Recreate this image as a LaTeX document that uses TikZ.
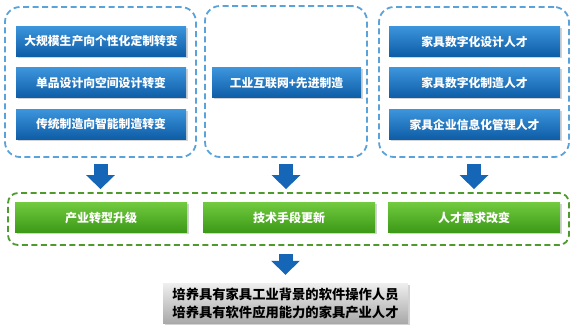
\documentclass[tikz,border=0pt]{standalone}
\usepackage{fontspec}
\setmainfont{Noto Sans CJK SC}
\usepackage{tikz}
\usetikzlibrary{arrows.meta, shadows}
\definecolor{dashblue}{HTML}{5AA2DA}
\definecolor{dashgreen}{HTML}{4E9A2C}
\definecolor{arrowblue}{HTML}{1566B6}
\definecolor{boxblueT}{HTML}{3C95DC}
\definecolor{boxblueB}{HTML}{0D5CA6}
\definecolor{boxgreenT}{HTML}{70C93E}
\definecolor{boxgreenB}{HTML}{3B9816}
\definecolor{boxgrayT}{HTML}{EFEFEF}
\definecolor{boxgrayB}{HTML}{A9A9A9}

\begin{document}
\begin{tikzpicture}[x=1pt, y=-1pt,
  grpbox/.style={draw=dashblue, line width=1.8pt, dash pattern=on 6pt off 3.5pt,
    rounded corners=15pt, inner sep=0pt},
  bluebox/.style={top color=boxblueT, bottom color=boxblueB, text=white,
    font=\fontsize{11.8}{14}\selectfont\bfseries, minimum height=30pt, inner sep=0pt,
    drop shadow={shadow xshift=1.5pt, shadow yshift=-1.5pt, opacity=0.35}},
  greenbox/.style={bluebox, top color=boxgreenT, bottom color=boxgreenB,
    font=\fontsize{12}{14}\selectfont\bfseries, minimum width=172pt},
  graybox/.style={top color=boxgrayT, bottom color=boxgrayB, text=black,
    font=\fontsize{13.3}{18}\selectfont\bfseries, align=center,
    minimum width=245pt, minimum height=40pt, inner sep=0pt,
    drop shadow={shadow xshift=1.5pt, shadow yshift=-1.5pt, opacity=0.35}},
  bigarrow/.style={draw=arrowblue, line width=14pt,
    -{Triangle[width=28pt, length=14pt]}}]
  \useasboundingbox (0,0) rectangle (577,328);
  % dashed groups
  \node[grpbox, minimum width=191pt, minimum height=150pt] (grpL) at (100.5,82) {};
  \node[grpbox, minimum width=162pt, minimum height=151pt] (grpM) at (286,81.5) {};
  \node[grpbox, minimum width=190pt, minimum height=150pt] (grpR) at (474,82) {};
  % left column
  \node[bluebox, minimum width=170pt] (trendA) at (101,41.5) {大规模生产向个性化定制转变};
  \node[bluebox, minimum width=170pt] (trendB) at (101,83) {单品设计向空间设计转变};
  \node[bluebox, minimum width=170pt] (trendC) at (101,124.5) {传统制造向智能制造转变};
  % middle column
  \node[bluebox, minimum width=149pt] (techA) at (286.5,83) {工业互联网+先进制造};
  % right column
  \node[bluebox, minimum width=171pt] (talentA) at (474.5,41.5) {家具数字化设计人才};
  \node[bluebox, minimum width=171pt] (talentB) at (474.5,83) {家具数字化制造人才};
  \node[bluebox, minimum width=171pt] (talentC) at (474.5,124.5) {家具企业信息化管理人才};
  % summary row
  \node[grpbox, draw=dashgreen, rounded corners=10pt, minimum width=561pt,
    minimum height=52pt] (grpSum) at (288.5,219) {};
  \node[greenbox] (sumA) at (101,218) {产业转型升级};
  \node[greenbox] (sumB) at (289,218) {技术手段更新};
  \node[greenbox] (sumC) at (474,218) {人才需求改变};
  % goal
  \node[graybox] (goal) at (285.5,303) {培养具有家具工业背景的软件操作人员\\培养具有软件应用能力的家具产业人才};
  % arrows
  \draw[bigarrow, shorten <=6pt, shorten >=3pt] (grpL.south) -- (grpL.south |- grpSum.north);
  \draw[bigarrow, shorten <=6pt, shorten >=3pt] (grpM.south) -- (grpM.south |- grpSum.north);
  \draw[bigarrow, shorten <=6pt, shorten >=3pt] (grpR.south) -- (grpR.south |- grpSum.north);
  \draw[bigarrow, shorten <=8pt, shorten >=8pt] (goal.north |- grpSum.south) -- (goal.north);
\end{tikzpicture}
\end{document}
